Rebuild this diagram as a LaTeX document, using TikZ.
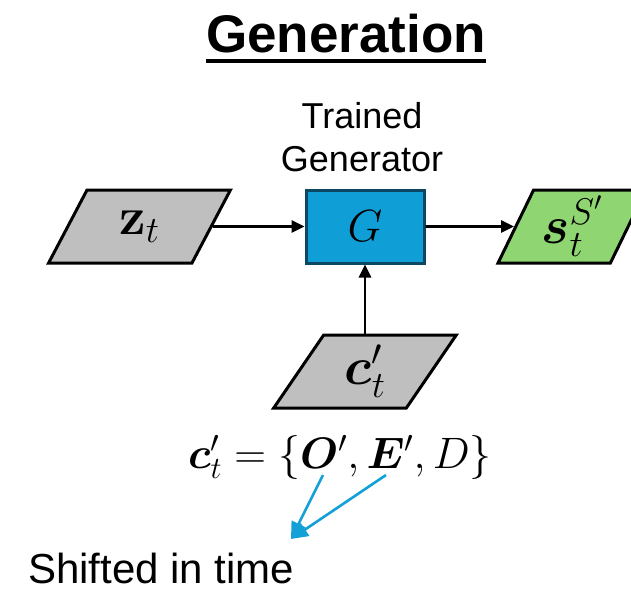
\RequirePackage{fix-cm}
\documentclass[tikz,border=0pt]{standalone}
\usepackage{amsmath}
\usepackage{bm}
\usepackage[no-math]{fontspec}
\setmainfont{Liberation Sans}
\usetikzlibrary{shapes.geometric,arrows.meta}

\definecolor{dataGray}{RGB}{191,191,191}
\definecolor{outGreen}{RGB}{143,214,114}
\definecolor{genBlue}{RGB}{15,158,213}
\definecolor{genEdge}{RGB}{12,72,100}
\definecolor{noteBlue}{RGB}{18,160,215}

\tikzset{
  databox/.style={shape=trapezium, trapezium left angle=65, trapezium right angle=115,
    trapezium stretches=true, minimum height=73pt, inner sep=0pt,
    draw=black, line width=3pt, font=\fontsize{53}{53}\selectfont},
  genbox/.style={rectangle, fill=genBlue, draw=genEdge, line width=3pt,
    minimum width=118pt, minimum height=73pt, inner sep=0pt,
    font=\fontsize{45}{45}\selectfont},
  caption/.style={inner sep=0pt, anchor=base, font=\fontsize{36}{36}\selectfont},
  flow/.style={-{Triangle[length=13pt,width=12pt]}, line width=2.6pt, black},
  note/.style={-{Triangle[length=17pt,width=15pt]}, line width=2.6pt, noteBlue},
}

\begin{document}
\begin{tikzpicture}[x=1pt, y=-1pt]
  \useasboundingbox (0,0) rectangle (631,590);

  % heading
  \node[inner sep=0pt, anchor=base, font=\bfseries\fontsize{53}{53}\selectfont]
    (title) at (346,52) {Generation};
  \draw[line width=4pt] ([yshift=-9pt]title.base west) -- ([yshift=-9pt]title.base east);

  % generator and its inputs/outputs
  \node[genbox] (G) at (365,226.5) {$G$};
  \node[caption] (lblA) at (362,128) {Trained};
  \node[caption] (lblB) at (362,171) {Generator};

  \node[databox, fill=dataGray, minimum width=183pt] (z) at (139.5,226.5) {$\mathbf{z}_t$};
  \node[databox, fill=outGreen, minimum width=148pt] (s) at (572,226.5) {$\bm{s}_t^{S'}$};
  \node[databox, fill=dataGray, minimum width=184pt] (c) at (365,371.5) {$\bm{c}'_t$};

  \draw[flow] (z) -- (G);
  \draw[flow] (G) -- (s);
  \draw[flow] (c) -- (G);

  % condition definition
  \node[inner sep=0pt, anchor=base, font=\fontsize{44}{44}\selectfont] (eq) at (340,468)
    {$\bm{c}'_t = \{\bm{O}', \bm{E}', D\}$};

  \coordinate (oFoot) at (323,475);
  \coordinate (eFoot) at (386,475);
  \coordinate (tip) at (291,539);
  \draw[note] (oFoot) -- (tip);
  \draw[note] (eFoot) -- (tip);

  \node[inner sep=0pt, anchor=base west, font=\fontsize{42}{42}\selectfont]
    (shift) at (28,583) {Shifted in time};
\end{tikzpicture}
\end{document}
